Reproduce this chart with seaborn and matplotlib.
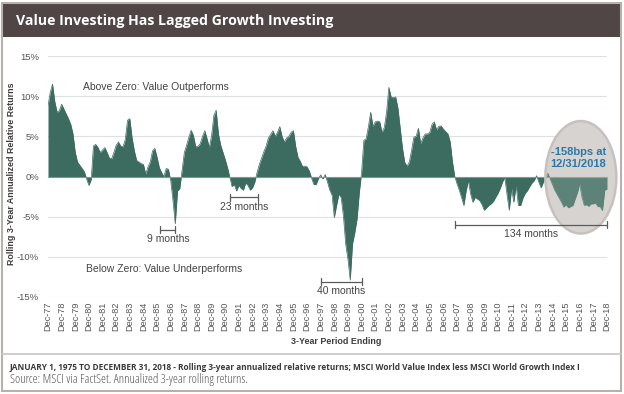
import numpy as np
import pandas as pd
import matplotlib
matplotlib.use('Agg')
import matplotlib.pyplot as plt
from matplotlib import font_manager as fm
from matplotlib.patches import Ellipse, Rectangle
from matplotlib.lines import Line2D
import seaborn as sns

# Rolling 3-yr annualized relative return (MSCI World Value less Growth), in %
# every other month, starting Dec-77
rel_return = [
    8.8, 10.5, 11.5, 9.3, 8.0, 8.2,        # Dec-77 .. Oct-78
    9.0, 8.4, 7.8, 7.2, 6.5, 5.3,          # Dec-78 .. Oct-79
    3.0, 1.8, 1.4, 1.0, 0.6, -0.3,
    -1.1, -0.4, 3.8, 4.0, 3.6, 3.0,
    3.3, 3.6, 3.0, 2.3, 2.2, 3.0,
    3.9, 4.3, 3.8, 3.7, 4.6, 7.0,
    7.2, 4.8, 3.2, 2.0, 1.8, 1.6,
    1.5, 0.3, 1.2, 1.8, 3.2, 3.5,
    2.4, 1.1, 0.5, 0.0, 1.0, 0.9,
    -0.5, -3.0, -5.9, -1.8, -1.5, 0.8,     # Dec-86 ..
    3.0, 3.9, 4.9, 5.75, 5.1, 3.7,
    3.75, 4.1, 5.0, 5.7, 4.7, 3.6,
    5.1, 7.6, 8.25, 5.3, 3.9, 3.0,
    2.1, 1.1, -0.1, -1.25, -1.0, -1.8,
    -1.1, -1.5, -1.7, -0.8, -1.1, -1.7,
    -1.4, -0.7, 0.5, 1.5, 2.3, 3.1,
    3.8, 4.8, 5.25, 5.7, 5.0, 5.5,
    6.2, 5.0, 4.3, 4.8, 5.0, 5.5,
    5.7, 3.75, 2.4, 1.9, 1.25, 1.3,
    1.2, 0.7, -0.2, -1.0, -1.0, -0.25,
    0.2, -0.3, 0.25, -0.7, -1.7, -2.3,     # Dec-97 ..
    -5.1, -3.6, -2.2, -2.6, -4.9, -8.4,
    -10.3, -12.9, -8.4, -7.0, -5.3, -2.0,
    0.5, 4.5, 4.7, 6.2, 8.0, 6.25,
    6.8, 6.9, 6.8, 5.5, 6.1, 8.0,
    11.1, 9.9, 9.8, 9.9, 8.5, 6.0,
    3.5, 1.75, 1.3, 1.8, 3.25, 4.9,
    5.0, 6.0, 4.1, 4.8, 5.3, 5.3,
    5.5, 6.5, 6.8, 5.8, 6.25, 6.3,
    5.9, 5.6, 5.3, 4.3, 1.8, 0.0,
    -0.9, -1.7, -2.6, -3.6, -1.8, -0.5,    # Dec-07 ..
    -2.2, -3.2, -2.6, -2.8, -3.0, -3.5,
    -4.2, -3.9, -3.6, -3.4, -3.1, -2.6,
    -2.1, -1.5, -0.7, -0.1, -2.25, -4.2,
    -1.5, -3.2, -1.1, -3.6, -3.6, -2.7,
    -2.1, -1.75, -1.25, -0.8, -0.5, 0.1,
    -0.7, -1.4, -0.7, -0.1, 0.4, -0.3,
    -1.0, -1.7, -2.2, -2.7, -3.2, -3.8,
    -3.5, -3.9, -3.75, -3.6, -2.8, -2.0,
    -0.9, -2.6, -3.6, -3.5, -3.7, -3.4,
    -3.4, -3.3, -3.75, -3.75, -4.25, -1.7, # Dec-17 .. Oct-18
    -1.58,                                 # Dec-18
]

years = list(range(1977, 2019))
x_labels = ['Dec-%02d' % (y % 100) for y in years]
y_ticks = [-15, -10, -5, 0, 5, 10, 15]
y_labels = ['-15%', '-10%', '-5%', '0%', '5%', '10%', '15%']

# underperformance streaks: label, first month, last month (months after Dec-77)
streak_labels = ['9 months', '23 months', '40 months', '134 months']
streak_start = [99, 160, 240, 358]
streak_end = [112, 185, 276, 492]

sns.set_theme(style='white')
plt.rcParams['font.family'] = ['Liberation Sans', 'DejaVu Sans']

# look for a condensed face for the title / footer
cond = {f.name for f in fm.fontManager.ttflist if 'condensed' in str(f.stretch)}
cond_name = None
for name in ['Liberation Sans Narrow', 'Noto Sans', 'Open Sans', 'Roboto', 'DejaVu Sans']:
    if name in cond:
        cond_name = name
        break
if cond_name:
    narrow = dict(family=[cond_name], fontstretch='condensed')
else:
    narrow = dict(family=['Liberation Sans'])

W, H = 624, 394
fig = plt.figure(figsize=(W / 100, H / 100), dpi=100)
ax = fig.add_axes([48 / W, 1 - 297 / H, 559 / W, 241 / H])

df = pd.DataFrame({'month': np.arange(len(rel_return)) * 2, 'ret': rel_return})
teal = '#3c6b60'
ax.fill_between(df['month'], 0, df['ret'], color=teal, lw=0, zorder=2)
sns.lineplot(data=df, x='month', y='ret', color=teal, lw=0.5, ax=ax, zorder=2)
ax.axhline(0, color='#8d9290', lw=0.8, zorder=3)

ax.set_xlim(0, 492)
ax.set_ylim(-15, 15)
ax.set_yticks(y_ticks)
ax.set_yticklabels(y_labels)
ax.set_xticks(np.arange(0, 493, 12))
ax.set_xticklabels(x_labels, rotation=90)
ax.tick_params(axis='y', length=0, pad=6.5, labelsize=6.8, labelcolor='#555555')
ax.tick_params(axis='x', length=0, pad=3.5, labelsize=6.6, labelcolor='#555555')
ax.grid(axis='y', color='#dde1e1', lw=0.8)
ax.grid(axis='x', visible=False)
ax.set_axisbelow(True)
for s in ax.spines.values():
    s.set_visible(False)
ax.set_xlabel('')
ax.set_ylabel('')

# streak brackets
brk_y = [-6.6, -2.6, -13.1, -6.0]
txt_y = [-7.75, -3.85, -14.3, -7.2]
for lab, m0, m1, by, ty in zip(streak_labels, streak_start, streak_end, brk_y, txt_y):
    ax.plot([m0, m1], [by, by], color='#5a5a5a', lw=0.9, clip_on=False, zorder=5)
    for m in (m0, m1):
        ax.plot([m, m], [by - 0.45, by + 0.45], color='#5a5a5a', lw=0.9, clip_on=False, zorder=5)
    ax.text((m0 + m1) / 2, ty, lab, ha='center', va='center', fontsize=7.5,
            color='#444444', zorder=6)

ax.text(31, 11.1, 'Above Zero: Value Outperforms', ha='left', va='center',
        fontsize=7.5, color='#444444')
ax.text(33.5, -11.5, 'Below Zero: Value Underperforms', ha='left', va='center',
        fontsize=7.5, color='#444444')

# highlight ellipse around the latest reading
ax.add_patch(Ellipse((469, -0.1), 62.5, 14, facecolor='#d6d3d1', edgecolor='none',
                     zorder=1.5, clip_on=False))
ax.add_patch(Ellipse((469, -0.1), 62.5, 14, facecolor=(0.84, 0.83, 0.82, 0.22),
                     edgecolor='#c6c1be', lw=1.8, zorder=4, clip_on=False))
ax.text(467, 2.25, '-158bps at\n12/31/2018', ha='center', va='center', fontsize=8,
        fontweight='bold', color='#2b78a6', linespacing=1.25, zorder=6)

# axis titles
fig.text(12 / W, 1 - 174 / H, 'Rolling 3-Year Annualized Relative Returns', rotation=90,
         ha='center', va='center', fontsize=6.4, fontweight='bold', color='#3d3d3d')
fig.text(336 / W, 1 - 342 / H, '3-Year Period Ending', ha='center', va='center',
         fontsize=6.4, fontweight='bold', color='#3d3d3d')

# title banner and frame
fig.add_artist(Rectangle((2 / W, 1 - 37 / H), 619 / W, 33 / H, transform=fig.transFigure,
                         facecolor='#4f4645', edgecolor='none'))
title = fig.text(16 / W, 1 - 20.5 / H, 'Value Investing Has Lagged Growth Investing',
                 ha='left', va='center', fontsize=14, fontweight='bold', color='white',
                 **narrow)
fig.add_artist(Rectangle((2 / W, 3 / H), 619 / W, 388 / H, transform=fig.transFigure,
                         facecolor='none', edgecolor='#b7b0ad', lw=1.5))
fig.add_artist(Line2D([2 / W, 621 / W], [1 - 354 / H] * 2, color='#c9c5c2', lw=1.2))

foot1 = fig.text(10 / W, 1 - 367 / H,
                 'JANUARY 1, 1975 TO DECEMBER 31, 2018 - Rolling 3-year annualized relative '
                 'returns; MSCI World Value Index less MSCI World Growth Index I',
                 ha='left', va='center', fontsize=7.5, fontweight='bold', color='#3a3a3a',
                 **narrow)
foot2 = fig.text(10 / W, 1 - 379 / H,
                 'Source: MSCI via FactSet. Annualized 3-year rolling returns.',
                 ha='left', va='center', fontsize=7.5, color='#555555', **narrow)

# size the condensed texts to the widths they take in the original
renderer = fig.canvas.get_renderer()
for t, target in [(title, 317), (foot1, 571), (foot2, 238)]:
    w = t.get_window_extent(renderer).width
    t.set_fontsize(t.get_fontsize() * target / w)

fig.savefig('out.png', dpi=100)
